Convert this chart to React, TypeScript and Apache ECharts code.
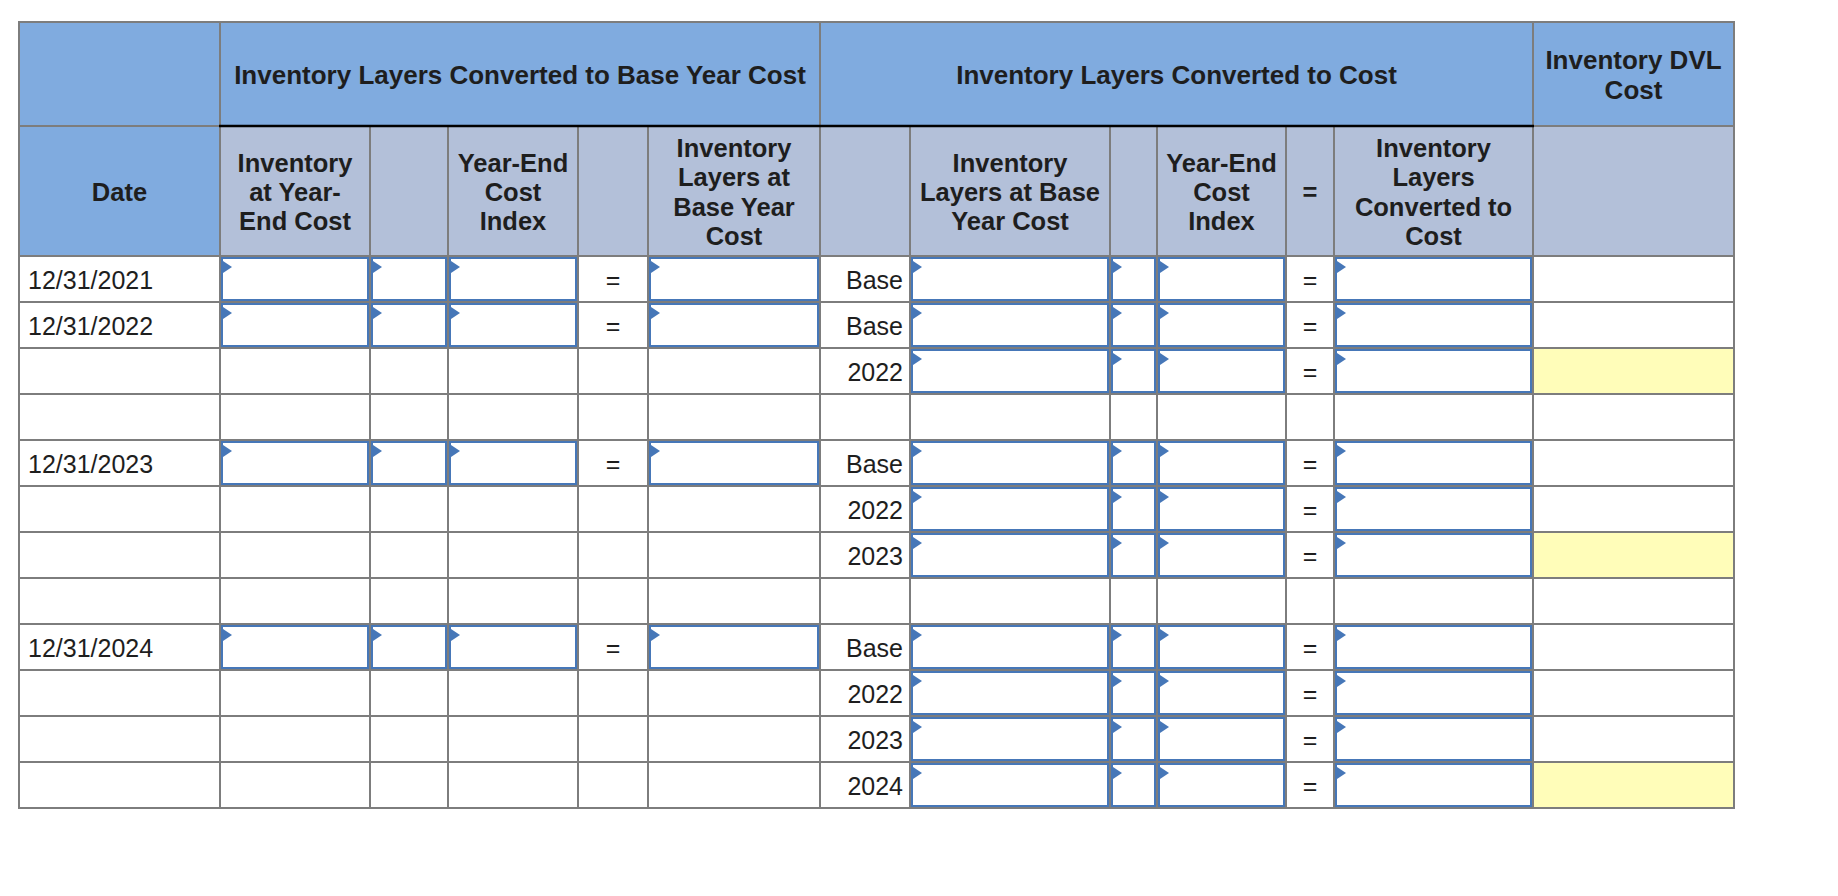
import { useEffect, useRef } from "react";
import * as echarts from "echarts";

// ---- table content ----
const dateLabels = ["12/31/2021", "12/31/2022", "", "", "12/31/2023", "", "", "", "12/31/2024", "", "", ""];
const layerLabels = ["Base", "Base", "2022", "", "Base", "2022", "2023", "", "Base", "2022", "2023", "2024"];
const dvlTotalRows = [false, false, true, false, false, false, true, false, false, false, false, true];
const groupHeaders = [
  "Inventory Layers Converted to Base Year Cost",
  "Inventory Layers Converted to Cost",
  "Inventory DVL\nCost",
];
const columnHeaders = [
  "Date",
  "Inventory\nat Year-\nEnd Cost",
  "",
  "Year-End\nCost\nIndex",
  "",
  "Inventory\nLayers at\nBase Year\nCost",
  "",
  "Inventory\nLayers at Base\nYear Cost",
  "",
  "Year-End\nCost\nIndex",
  "=",
  "Inventory\nLayers\nConverted to\nCost",
  "",
];
const equalsSign = "=";

// ---- layout (positions / styles) ----
const X = [19, 220, 370, 448, 578, 648, 820, 910, 1110, 1157, 1286, 1334, 1533, 1734];
const GROUP_SPANS = [[1, 6], [6, 12], [12, 13]];
const LEFT_INPUT_COLS = [1, 2, 3, 5];
const RIGHT_INPUT_COLS = [7, 8, 9, 11];
const TOP = 22;
const H1 = 126;
const H2 = 256;
const ROW_H = 46;
const FONT = "'Liberation Sans', Arial, Helvetica, sans-serif";
const C_HEAD1 = "#80abdf";
const C_HEAD2 = "#b3c0d9";
const C_GRID = "#7d7d7d";
const C_INPUT = "#4677b8";
const C_YELLOW = "#fffdb9";
const C_TEXT = "#1e1e1e";

function buildElements() {
  const els: any[] = [];
  const nRows = dateLabels.length;
  const bottom = H2 + nRows * ROW_H;
  const L = X[0];
  const R = X[X.length - 1];

  // backgrounds
  els.push({ type: "rect", shape: { x: L, y: TOP, width: R - L, height: H1 - TOP }, style: { fill: C_HEAD1 } });
  els.push({ type: "rect", shape: { x: L, y: H1, width: R - L, height: H2 - H1 }, style: { fill: C_HEAD2 } });
  els.push({ type: "rect", shape: { x: X[0], y: H1, width: X[1] - X[0], height: H2 - H1 }, style: { fill: C_HEAD1 } });
  els.push({ type: "rect", shape: { x: L, y: H2, width: R - L, height: bottom - H2 }, style: { fill: "#ffffff" } });
  dvlTotalRows.forEach((on, i) => {
    if (!on) return;
    const t = H2 + i * ROW_H;
    els.push({ type: "rect", shape: { x: X[12], y: t, width: X[13] - X[12], height: ROW_H }, style: { fill: C_YELLOW } });
  });

  // horizontal grid lines
  const hLine = (y: number) =>
    els.push({ type: "line", shape: { x1: L, y1: y, x2: R, y2: y }, style: { stroke: C_GRID, lineWidth: 2 } });
  hLine(TOP);
  hLine(H1);
  for (let i = 0; i <= nRows; i++) hLine(H2 + i * ROW_H);

  // vertical grid lines
  X.forEach((x, ci) => {
    const full = ci === 0 || ci === X.length - 1 || ci === 1 || ci === 6 || ci === 12;
    els.push({
      type: "line",
      shape: { x1: x, y1: full ? TOP - 1 : H1, x2: x, y2: bottom + 1 },
      style: { stroke: C_GRID, lineWidth: 2 },
    });
  });

  // black rule under group headers
  els.push({ type: "line", shape: { x1: X[1] - 1, y1: H1, x2: X[12] + 1, y2: H1 }, style: { stroke: "#000000", lineWidth: 2.5 } });

  // inputs
  const input = (c: number, t: number) => {
    els.push({
      type: "rect",
      shape: { x: X[c] + 2, y: t + 2, width: X[c + 1] - X[c] - 4, height: ROW_H - 4 },
      style: { fill: "#ffffff", stroke: C_INPUT, lineWidth: 2 },
    });
    els.push({
      type: "polygon",
      shape: { points: [[X[c] + 3, t + 5], [X[c] + 12, t + 11], [X[c] + 3, t + 17]] },
      style: { fill: C_INPUT },
    });
  };

  const txt = (text: string, x: number, y: number, align: string, bold: boolean, size: number) =>
    els.push({
      type: "text",
      x,
      y,
      style: {
        text,
        fill: C_TEXT,
        fontFamily: FONT,
        fontSize: size,
        fontWeight: bold ? "bold" : "normal",
        align,
        verticalAlign: "middle",
        lineHeight: 29.3,
      },
    });

  // group headers
  GROUP_SPANS.forEach(([a, b], i) => {
    txt(groupHeaders[i], (X[a] + X[b]) / 2, (TOP + H1) / 2 + 1, "center", true, 26);
  });
  // column headers
  columnHeaders.forEach((h, ci) => {
    if (!h) return;
    txt(h, (X[ci] + X[ci + 1]) / 2, (H1 + H2) / 2 + 1, "center", true, 25.5);
  });

  // data rows
  for (let i = 0; i < nRows; i++) {
    const t = H2 + i * ROW_H;
    const cy = t + ROW_H / 2 + 1;
    if (dateLabels[i]) {
      txt(dateLabels[i], X[0] + 9, cy, "left", false, 25);
      LEFT_INPUT_COLS.forEach((c) => input(c, t));
      txt(equalsSign, (X[4] + X[5]) / 2, cy, "center", false, 25);
    }
    if (layerLabels[i]) {
      txt(layerLabels[i], X[7] - 7, cy, "right", false, 25);
      RIGHT_INPUT_COLS.forEach((c) => input(c, t));
      txt(equalsSign, (X[10] + X[11]) / 2, cy, "center", false, 25);
    }
  }
  return els;
}

export default function App() {
  const ref = useRef<HTMLDivElement>(null);
  useEffect(() => {
    if (!ref.current) return;
    const chart = echarts.init(ref.current, undefined, { renderer: "svg" });
    chart.setOption({
      animation: false,
      backgroundColor: "#ffffff",
      graphic: { elements: buildElements() },
    });
    return () => chart.dispose();
  }, []);
  return (
    <div
      ref={ref}
      style={{ position: "absolute", left: 0, top: 0, width: 1838, height: 896, background: "#fff" }}
    />
  );
}
